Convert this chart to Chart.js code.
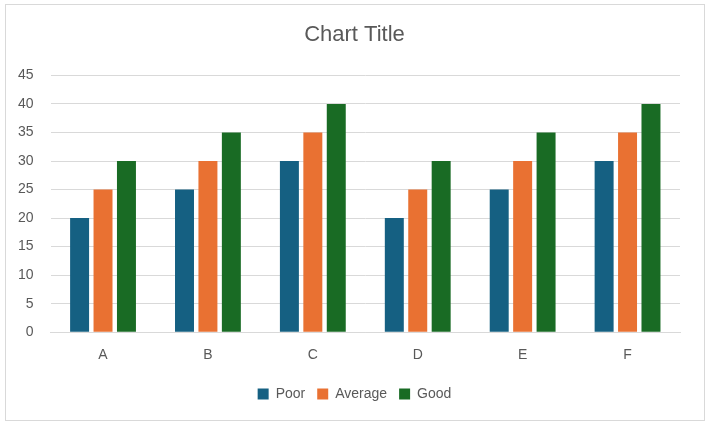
<!DOCTYPE html>
<html>
<head>
<meta charset="utf-8">
<script src="https://cdn.jsdelivr.net/npm/chart.js@4/dist/chart.umd.min.js"></script>
<style>
  html, body { margin: 0; padding: 0; background: #fff; }
  #wrap { width: 711px; height: 425px; }
</style>
</head>
<body>
<div id="wrap"><canvas id="myChart" width="711" height="425"></canvas></div>
<script>
const categories = ['A', 'B', 'C', 'D', 'E', 'F'];
const poor = [20, 25, 30, 20, 25, 30];
const average = [25, 30, 35, 25, 30, 35];
const good = [30, 35, 40, 30, 35, 40];

const textColor = '#595959';
const gridColor = '#D9D9D9';

// white background + thin frame round the chart
const frame = {
  id: 'frame',
  beforeDraw(chart) {
    const ctx = chart.ctx;
    ctx.save();
    ctx.fillStyle = '#fff';
    ctx.fillRect(0, 0, chart.width, chart.height);
    ctx.strokeStyle = gridColor;
    ctx.lineWidth = 1;
    ctx.strokeRect(5.5, 4.5, 699, 416);
    ctx.restore();
  },
  // centre title and legend on the whole frame, not on the padded area
  afterLayout(chart) {
    const shift = 14;
    [chart.titleBlock, chart.legend].forEach(b => {
      if (b) { b.left += shift; b.right += shift; }
    });
  }
};

const ctx = document.getElementById('myChart').getContext('2d');
const myChart = new Chart(ctx, {
  type: 'bar',
  data: {
    labels: categories,
    datasets: [
      { label: 'Poor', data: poor, backgroundColor: '#156082' },
      { label: 'Average', data: average, backgroundColor: '#E97132' },
      { label: 'Good', data: good, backgroundColor: '#196B24' }
    ]
  },
  options: {
    responsive: false,
    animation: false,
    datasets: {
      bar: { categoryPercentage: 0.67, barPercentage: 0.81 }
    },
    layout: { padding: { left: 1, right: 31, top: 16, bottom: 14 } },
    plugins: {
      title: {
        display: true,
        text: 'Chart Title',
        color: textColor,
        font: { family: 'Liberation Sans', size: 22, weight: 'normal' },
        padding: { top: 6, bottom: 27 }
      },
      legend: {
        position: 'bottom',
        labels: {
          color: textColor,
          font: { family: 'Liberation Sans', size: 14 },
          boxWidth: 11,
          boxHeight: 11,
          padding: 12
        }
      },
      tooltip: { enabled: false }
    },
    scales: {
      x: {
        grid: { display: false },
        border: { display: true, color: gridColor },
        ticks: { color: textColor, font: { family: 'Liberation Sans', size: 14 }, padding: 7 },
        afterFit(scale) { scale.height += 4; }
      },
      y: {
        min: 0,
        max: 45,
        ticks: { stepSize: 5, color: textColor, font: { family: 'Liberation Sans', size: 14 }, padding: 17 },
        grid: { color: gridColor, drawTicks: false },
        border: { display: false }
      }
    }
  },
  plugins: [frame]
});
</script>
</body>
</html>
